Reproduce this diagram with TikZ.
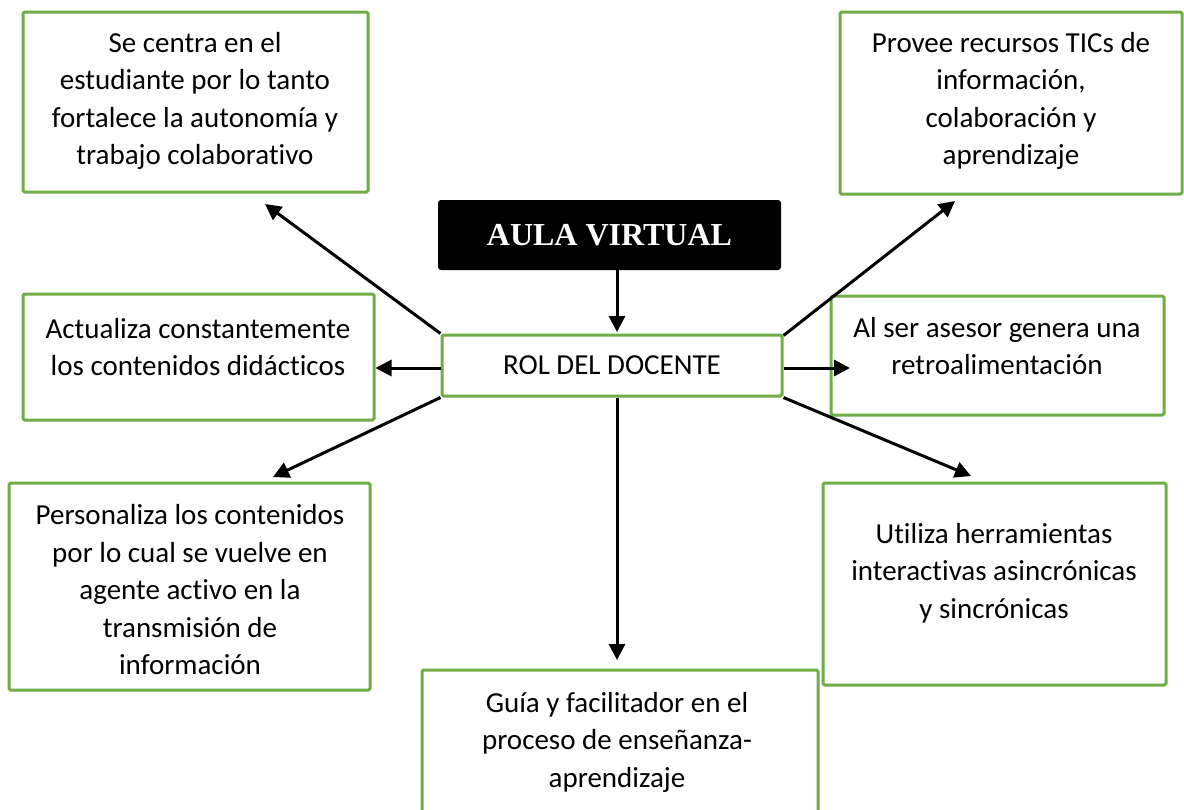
\documentclass[tikz,border=0pt]{standalone}
\usepackage{fontspec}
\setmainfont{Carlito}[Ligatures=NoCommon]
\newfontfamily\titlefont{Liberation Serif}
\usetikzlibrary{arrows.meta}
\definecolor{boxgreen}{RGB}{112,173,71}
\begin{document}
\begin{tikzpicture}[x=1pt,y=-1pt,
  box/.style={draw=boxgreen, line width=3pt, fill=white, rectangle, inner sep=0pt, rounded corners=1.5pt},
  txt/.style={align=center, font=\fontsize{29}{37.5}\selectfont, inner sep=0pt, text=black},
  arr/.style={line width=3pt, -{Triangle[length=16pt,width=16pt]}}]
\clip (0,0) rectangle (1184,809);
\fill[white] (0,0) rectangle (1184,809);
% boxes
\node[box, minimum width=345pt, minimum height=180pt] (b1) at (195.5,102) {};
\node[box, minimum width=342pt, minimum height=182pt] (b2) at (1011,103) {};
\node[fill=black, rounded corners=3pt, minimum width=343pt, minimum height=70pt, inner sep=0pt,
      text=white, font=\titlefont\bfseries\fontsize{32}{36}\selectfont] (aula) at (609.5,235) {AULA VIRTUAL};
\node[box, minimum width=340pt, minimum height=61pt, txt] (rol) at (612,365.5) {ROL DEL DOCENTE};
\node[box, minimum width=351pt, minimum height=126pt] (b3) at (198.5,357) {};
\node[box, minimum width=333pt, minimum height=119pt] (b4) at (997.5,355.5) {};
\node[box, minimum width=361pt, minimum height=207pt] (b5) at (189.5,586.5) {};
\node[box, minimum width=343pt, minimum height=202pt] (b6) at (994.5,584) {};
\node[box, minimum width=396pt, minimum height=220pt] (b7) at (620,780) {};
% texts
\node[txt] (t1) at (195,101) {Se centra en el\\estudiante por lo tanto\\fortalece la autonomía y\\trabajo colaborativo};
\node[txt] (t2) at (1011,101) {Provee recursos TICs de\\información,\\colaboración y\\aprendizaje};
\node[txt] (t3) at (198,347) {Actualiza constantemente\\los contenidos didácticos};
\node[txt] (t4) at (997,346) {Al ser asesor genera una\\retroalimentación};
\node[txt] (t5) at (190,590) {Personaliza los contenidos\\por lo cual se vuelve en\\agente activo en la\\transmisión de\\información};
\node[txt] (t6) at (994,573) {Utiliza herramientas\\interactivas asincrónicas\\y sincrónicas};
\node[txt] (t7) at (617,742) {Guía y facilitador en el\\proceso de enseñanza-\\aprendizaje};
% arrow endpoints
\coordinate (a0) at (617,332);
\coordinate (e1) at (265,204);
\coordinate (e3) at (273,477);
\coordinate (e4) at (617,660);
\coordinate (e5) at (955,201);
\coordinate (e6) at (850,368);
\coordinate (e7) at (971,476);
% arrows
\draw[arr] (aula.south -| a0) -- (a0);
\draw[arr] (rol.north west) -- (e1);
\draw[arr] (rol.west |- e6) -- (b3.east |- e6);
\draw[arr] (rol.south west) -- (e3);
\draw[arr] (rol.south -| e4) -- (e4);
\draw[arr] ([yshift=-2pt]rol.north east) -- (e5);
\draw[arr] (rol.east |- e6) -- (e6);
\draw[arr] (rol.south east) -- (e7);
\end{tikzpicture}
\end{document}
